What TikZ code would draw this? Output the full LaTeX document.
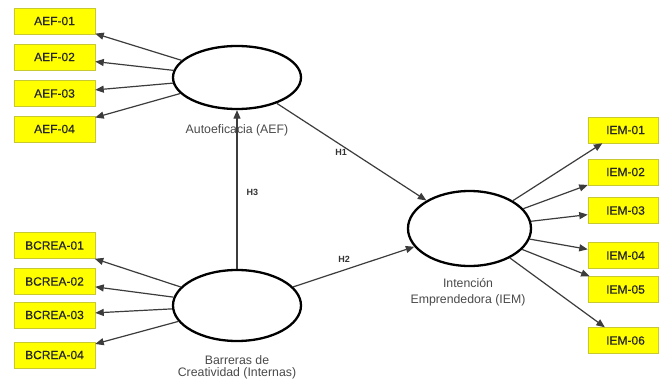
\documentclass[tikz,border=0pt]{standalone}
\usepackage{fontspec}
\setmainfont{Liberation Sans}
\newfontfamily\medfont[FakeBold=0.4]{Liberation Sans}
\usetikzlibrary{arrows.meta,shapes.geometric}
\definecolor{boxyellow}{HTML}{FFFF00}
\definecolor{boxline}{HTML}{C8C832}
\definecolor{linkgray}{HTML}{3C3C3C}
\definecolor{lblgray}{HTML}{4A4A4A}
\begin{document}
\begin{tikzpicture}[x=1pt,y=-1pt,
  item/.style={rectangle, fill=boxyellow, draw=boxline, line width=0.5pt,
    minimum height=26pt, inner sep=0pt, font=\medfont\fontsize{12}{14}\selectfont, text=black!85},
  leftbox/.style={item, minimum width=81pt},
  rightbox/.style={item, minimum width=70pt},
  latent/.style={ellipse, draw=black, line width=2.3pt, fill=white, inner sep=0pt},
  load/.style={draw=linkgray, line width=1.2pt, -{Triangle[length=8.5pt,width=7pt]}},
  capt/.style={text=lblgray, align=center, inner sep=0pt},
  hlbl/.style={font=\bfseries\fontsize{9}{10}\selectfont, text=black!80, inner sep=0pt}
]
\useasboundingbox (0,0) rectangle (659,385);
\fill[white] (0,0) rectangle (659,385);

% latent variables
\node[latent, minimum width=128pt, minimum height=63pt] (aef) at (237,77.5) {};
\node[latent, minimum width=128pt, minimum height=71pt] (bcrea) at (237,305.5) {};
\node[latent, minimum width=123pt, minimum height=75pt] (iem) at (469.5,228.5) {};

% captions
\node[capt, font=\fontsize{12.3}{13}\selectfont] (aefcap) at (237,130) {Autoeficacia (AEF)};
\node[capt, font=\fontsize{12.3}{12.2}\selectfont] (bcap) at (237,367) {Barreras de\\Creatividad (Internas)};
\node[capt, font=\fontsize{12.3}{16}\selectfont] (icap) at (468,292) {Intención\\Emprendedora (IEM)};

% indicators AEF
\node[leftbox] (a1) at (54.5,21) {AEF-01};
\node[leftbox] (a2) at (54.5,57) {AEF-02};
\node[leftbox] (a3) at (54.5,93.5) {AEF-03};
\node[leftbox] (a4) at (54.5,129) {AEF-04};
% indicators BCREA
\node[leftbox] (b1) at (54.5,245.5) {BCREA-01};
\node[leftbox] (b2) at (54.5,281.5) {BCREA-02};
\node[leftbox] (b3) at (54.5,315) {BCREA-03};
\node[leftbox] (b4) at (54.5,355) {BCREA-04};
% indicators IEM
\node[rightbox] (i1) at (623,130) {\hspace{5pt}IEM-01};
\node[rightbox] (i2) at (623,172) {\hspace{5pt}IEM-02};
\node[rightbox] (i3) at (623,210.5) {\hspace{5pt}IEM-03};
\node[rightbox] (i4) at (623,255.5) {\hspace{5pt}IEM-04};
\node[rightbox] (i5) at (623,289.5) {\hspace{5pt}IEM-05};
\node[rightbox] (i6) at (623,340.5) {\hspace{5pt}IEM-06};

% loadings
\foreach \t in {a1,a2,a3,a4} \draw[load] (aef) -- (\t);
\foreach \t in {b1,b2,b3,b4} \draw[load] (bcrea) -- (\t);
\foreach \t in {i1,i2,i3,i4,i5,i6} \draw[load] (iem) -- (\t);

% structural paths
\draw[load] (aef) -- node[hlbl, pos=0.43, below=3.5pt] (h1) {H1} (iem);
\draw[load] (bcrea) -- node[hlbl, pos=0.42, above=6.5pt] (h2) {H2} (iem);
\draw[load] (bcrea) -- node[hlbl, pos=0.48, right=9pt] (h3) {H3} (aef);
\end{tikzpicture}
\end{document}
